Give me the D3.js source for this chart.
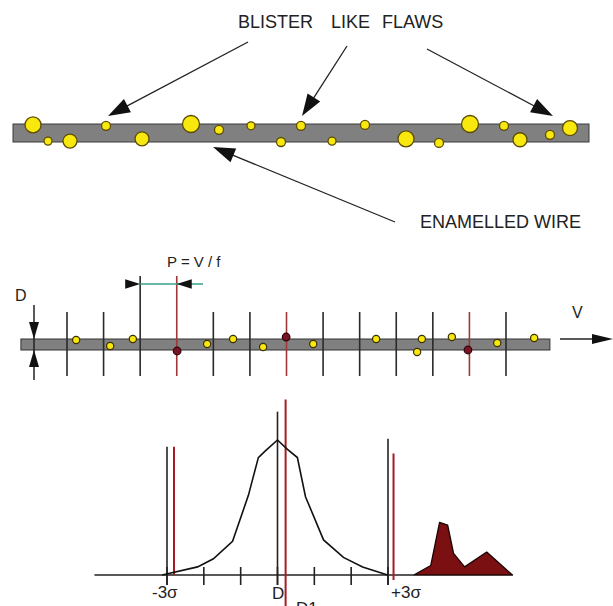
<!DOCTYPE html>
<html><head><meta charset="utf-8">
<script src="https://cdn.jsdelivr.net/npm/d3@7"></script>
<style>html,body{margin:0;padding:0;background:#fff;}svg{display:block;}text{font-family:"Liberation Sans",Arial,sans-serif;fill:#222;}</style>
</head><body>
<script>
// ---------- DATA ----------
// Top wire: blister positions along the wire (px from wire start), vertical offset (-1 bottom .. +1 top), radius
const blisterPos    = [20, 35, 57, 93, 129, 178, 206, 238, 268, 288, 319, 352, 393, 426, 457, 491, 507, 537, 557];
const blisterOffset = [0.9,-0.9,-0.9,0.8,-0.65,1.0,0.35,0.8,-1.0,0.8,-0.9,0.9,-0.65,-1.1,1.0,0.8,-0.75,-0.2,0.55];
const blisterSize   = [8,4,7,4.5,7,8.5,4.5,4,4.5,4.5,4,4.5,8,4.5,8.5,4.5,7,4.5,7.5];
const topLabels = ["BLISTER", "LIKE", "FLAWS"];
const wireLabel = "ENAMELLED WIRE";

// Middle wire: test-point index (pitch units) of each flaw and its offset on the wire
const pitchIndex   = [0,1,2,3,4,5,6,7,8,9,10,11,12];
const redPitch     = [3, 6, 11];
const flawPos      = [0.25,1.18,1.80,3.83,4.54,5.36,6.73,8.45,9.57,9.70,10.52,11.76,12.77];
const flawOffset   = [0.82,-0.27,1.0,0.1,1.0,-0.45,0.1,1.0,-1.36,1.0,1.36,0.27,1.18];
const hitPos       = [3.01, 5.99, 10.96];
const hitOffset    = [-1.18, 1.36, -1.0];

// Bottom: distribution in sigma units
const sigmaTicks   = [-3,-2,-1,0,1,2,3];
const curveX = [-3.13,-2.17,-1.74,-1.22,-0.79,-0.52,-0.33,0,0.27,0.54,0.76,1.25,1.79,2.31,2.99];
const curveY = [0,0.06,0.12,0.25,0.59,0.87,0.92,1,0.93,0.87,0.58,0.26,0.13,0.06,0];
const flawDistX = [3.70,4.16,4.40,4.62,4.78,5.08,5.68,6.38];
const flawDistY = [0,0.07,0.39,0.37,0.16,0.06,0.17,0];
const limitLabels = ["-3σ", "D", "+3σ", "D1"];

// ---------- DRAW ----------
const W = 613, H = 606;
const svg = d3.select("body").append("svg").attr("width", W).attr("height", H);

function arrowHead(g, x1, y1, x2, y2, len, hw, fill) {
  const a = Math.atan2(y2 - y1, x2 - x1);
  const bx = x2 - len * Math.cos(a), by = y2 - len * Math.sin(a);
  const px = -Math.sin(a) * hw, py = Math.cos(a) * hw;
  g.append("path").attr("d", `M${x2},${y2}L${bx+px},${by+py}L${bx-px},${by-py}Z`).attr("fill", fill || "#111");
}
function arrow(g, x1, y1, x2, y2, len, hw, col, sw) {
  const a = Math.atan2(y2 - y1, x2 - x1);
  g.append("line").attr("x1", x1).attr("y1", y1)
    .attr("x2", x2 - (len*0.7) * Math.cos(a)).attr("y2", y2 - (len*0.7) * Math.sin(a))
    .attr("stroke", col || "#222").attr("stroke-width", sw || 1.3);
  arrowHead(g, x1, y1, x2, y2, len, hw);
}

// ---- Top section ----
const gTop = svg.append("g");
const xw1 = d3.scaleLinear().domain([0, 576]).range([13, 589]);
const yw1 = d3.scaleLinear().domain([-1, 1]).range([142, 124]);
const topStarts = [238, 331, 382];
gTop.selectAll("text.tl").data(topLabels).join("text").attr("class","tl")
  .attr("x", (d,i) => topStarts[i]).attr("y", 28).attr("font-size", 18).text(d => d);

arrow(gTop, 248, 42, 108, 116, 22, 7.5);
arrow(gTop, 347, 46, 302, 116, 22, 7.5);
arrow(gTop, 427, 49, 553, 116, 22, 7.5);
arrow(gTop, 395, 222, 213, 147, 22, 7.5);
gTop.append("text").attr("x", 420).attr("y", 228).attr("font-size", 18).text(wireLabel);

gTop.append("rect").attr("x", xw1(0)).attr("y", yw1(1)).attr("width", xw1(576) - xw1(0))
  .attr("height", yw1(-1) - yw1(1)).attr("fill", "#808080").attr("stroke", "#3a3a3a").attr("stroke-width", 1);
gTop.selectAll("circle.bl").data(blisterPos).join("circle").attr("class","bl")
  .attr("cx", d => xw1(d)).attr("cy", (d,i) => yw1(blisterOffset[i])).attr("r", (d,i) => blisterSize[i])
  .attr("fill", "#f8e80e").attr("stroke", "#5c4c05").attr("stroke-width", 1.3);

// ---- Middle section ----
const gMid = svg.append("g");
const xp = d3.scaleLinear().domain([0, 12]).range([67, 506]);
const yw2 = d3.scaleLinear().domain([-1, 1]).range([350, 339]);
gMid.append("rect").attr("x", xp(-1.26)).attr("y", yw2(1)).attr("width", xp(13.2) - xp(-1.26))
  .attr("height", yw2(-1) - yw2(1)).attr("fill", "#808080").attr("stroke", "#333").attr("stroke-width", 1);
gMid.selectAll("line.pl").data(pitchIndex).join("line").attr("class","pl")
  .attr("x1", d => xp(d)).attr("x2", d => xp(d))
  .attr("y1", d => (d === 2 || d === 3) ? 276 : 312).attr("y2", 376)
  .attr("stroke", d => redPitch.includes(d) ? "#a03838" : "#2a2a2a").attr("stroke-width", 1.6);
gMid.selectAll("circle.fl").data(flawPos).join("circle").attr("class","fl")
  .attr("cx", d => xp(d)).attr("cy", (d,i) => yw2(flawOffset[i])).attr("r", 3.6)
  .attr("fill", "#f8e80e").attr("stroke", "#3a3000").attr("stroke-width", 1.2);
gMid.selectAll("circle.hit").data(hitPos).join("circle").attr("class","hit")
  .attr("cx", d => xp(d)).attr("cy", (d,i) => yw2(hitOffset[i])).attr("r", 3.8)
  .attr("fill", "#7a1424").attr("stroke", "#2a0508").attr("stroke-width", 1.2);
// P = V/f dimension
gMid.append("line").attr("x1", xp(2)).attr("x2", 203).attr("y1", 284).attr("y2", 284)
  .attr("stroke", "#3aa08e").attr("stroke-width", 1.6);
arrowHead(gMid, xp(2) - 20, 284, xp(2), 284, 15, 4.8);
arrowHead(gMid, xp(3) + 20, 284, xp(3), 284, 15, 4.8);
gMid.append("text").attr("x", 167).attr("y", 267).attr("font-size", 15).text("P = V / f");
// D dimension
gMid.append("line").attr("x1", 34).attr("x2", 34).attr("y1", 305).attr("y2", 380).attr("stroke", "#222").attr("stroke-width", 1.5);
arrowHead(gMid, 34, 300, 34, yw2(1), 17, 5);
arrowHead(gMid, 34, 390, 34, yw2(-1), 17, 5);
gMid.append("text").attr("x", 15).attr("y", 301).attr("font-size", 16).text("D");
// V arrow
gMid.append("line").attr("x1", 560).attr("x2", 600).attr("y1", 339).attr("y2", 339).attr("stroke", "#222").attr("stroke-width", 1.6);
arrowHead(gMid, 560, 339, 613, 339, 21, 5);
gMid.append("text").attr("x", 572).attr("y", 318).attr("font-size", 16).text("V");

// ---- Bottom section ----
const gBot = svg.append("g");
const xs = d3.scaleLinear().domain([-3, 3]).range([167, 388]);
const yd = d3.scaleLinear().domain([0, 1]).range([575, 440]);
gBot.append("line").attr("x1", xs(-4.97)).attr("x2", xs(3.70)).attr("y1", yd(0)).attr("y2", yd(0))
  .attr("stroke", "#222").attr("stroke-width", 1.6);
gBot.selectAll("line.tk").data(sigmaTicks).join("line").attr("class","tk")
  .attr("x1", d => xs(d)).attr("x2", d => xs(d)).attr("y1", 567).attr("y2", 585)
  .attr("stroke", "#222").attr("stroke-width", 1.6);
// limit lines
const blackLines = [{s:-3, top:0.95}, {s:0, top:1.21}, {s:3, top:1.01}];
const redLines = [{s:-2.81, top:0.95, bot:575}, {s:0.22, top:1.30, bot:606}, {s:3.15, top:0.90, bot:580}];
gBot.selectAll("line.bk").data(blackLines).join("line").attr("class","bk")
  .attr("x1", d => xs(d.s)).attr("x2", d => xs(d.s)).attr("y1", d => yd(d.top)).attr("y2", 585)
  .attr("stroke", "#222").attr("stroke-width", 1.6);
gBot.selectAll("line.rd").data(redLines).join("line").attr("class","rd")
  .attr("x1", d => xs(d.s)).attr("x2", d => xs(d.s)).attr("y1", d => yd(d.top)).attr("y2", d => d.bot)
  .attr("stroke", "#a51c24").attr("stroke-width", 2);
// distribution curve
const curve = d3.line().x(d => xs(d[0])).y(d => yd(d[1]));
gBot.append("path").attr("d", curve(curveX.map((x,i) => [x, curveY[i]])))
  .attr("fill", "none").attr("stroke", "#111").attr("stroke-width", 1.6);
// flaw distribution
gBot.append("path").attr("d", curve(flawDistX.map((x,i) => [x, flawDistY[i]])) + "Z")
  .attr("fill", "#7a1012").attr("stroke", "#1a0505").attr("stroke-width", 1.3).attr("stroke-linejoin","round");
// labels
const labX = [152, 272, 391, 296];
const labY = [598, 599, 598, 614];
gBot.selectAll("text.lb").data(limitLabels).join("text").attr("class","lb")
  .attr("x", (d,i) => labX[i]).attr("y", (d,i) => labY[i]).attr("font-size", 17).text(d => d);
</script>
</body></html>
